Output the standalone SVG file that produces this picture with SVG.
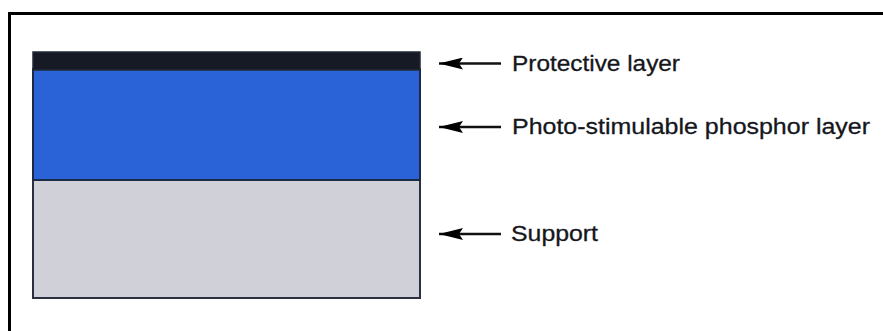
<svg xmlns="http://www.w3.org/2000/svg" width="883" height="331" viewBox="0 0 883 331">
  <defs>
    <marker id="head" markerWidth="24" markerHeight="12" refX="24" refY="6" orient="auto" markerUnits="userSpaceOnUse">
      <path d="M24,6 L0,0 L4,6 L0,12 Z" fill="#000"/>
    </marker>
    <style>
      .label { font-family: "Liberation Sans", Arial, Helvetica, sans-serif; font-size: 22px; fill: #15171c; stroke: #15171c; stroke-width: 0.3; }
      .arrow { stroke: #111; stroke-width: 2.5; fill: none; }
    </style>
  </defs>
  <rect width="883" height="331" fill="#fff"/>
  <!-- open frame: top and left rule -->
  <path d="M9.5,331 V13.5 H883" fill="none" stroke="#000" stroke-width="3"/>

  <g id="support">
    <rect x="33" y="180" width="387" height="118" fill="#d0d0d8" stroke="#2a3040" stroke-width="2"/>
  </g>
  <g id="phosphor-layer">
    <rect x="33" y="69" width="387" height="111" fill="#2a63d7" stroke="#1c2a44" stroke-width="2"/>
  </g>
  <g id="protective-layer">
    <rect x="33" y="52" width="387" height="18" fill="#151a24" stroke="#222a36" stroke-width="1.5"/>
  </g>

  <g id="connectors">
    <line class="arrow" x1="501" y1="63.5" x2="439" y2="63.5" marker-end="url(#head)"/>
    <line class="arrow" x1="501" y1="127" x2="439" y2="127" marker-end="url(#head)"/>
    <line class="arrow" x1="501" y1="234" x2="439" y2="234" marker-end="url(#head)"/>
  </g>

  <g id="label-protective">
    <text class="label" x="512" y="71" textLength="168" lengthAdjust="spacingAndGlyphs">Protective layer</text>
  </g>
  <g id="label-phosphor">
    <text class="label" x="512" y="134" textLength="358" lengthAdjust="spacingAndGlyphs">Photo-stimulable phosphor layer</text>
  </g>
  <g id="label-support">
    <text class="label" x="511" y="241" textLength="87" lengthAdjust="spacingAndGlyphs">Support</text>
  </g>
</svg>
